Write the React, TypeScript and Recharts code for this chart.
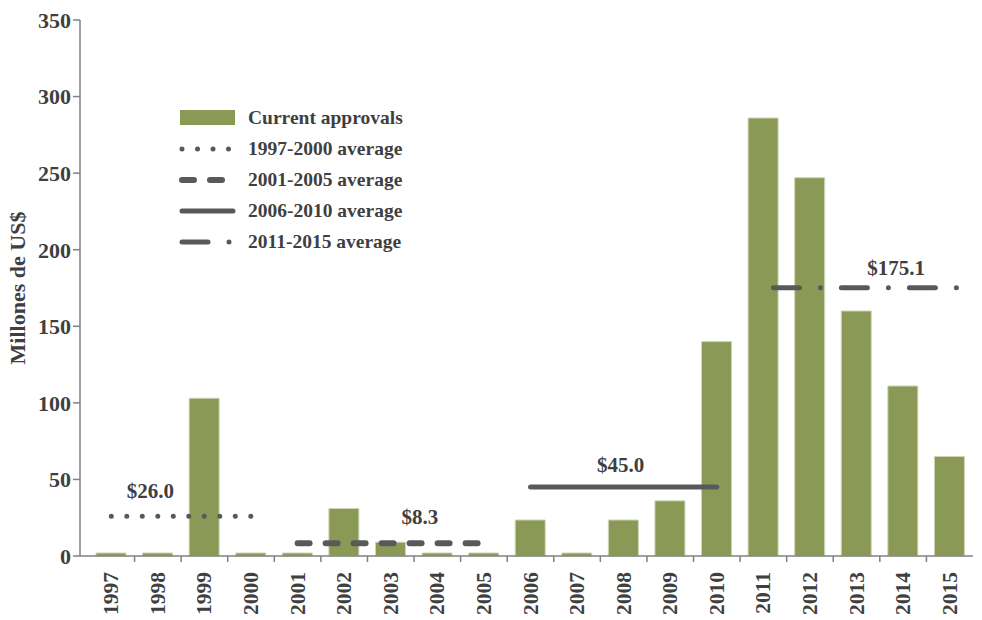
import React from 'react';
import { ComposedChart, Bar, Line, XAxis, YAxis } from 'recharts';

const years = ['1997', '1998', '1999', '2000', '2001', '2002', '2003', '2004', '2005', '2006',
  '2007', '2008', '2009', '2010', '2011', '2012', '2013', '2014', '2015'];
const approvals = [0.3, 0.3, 103, 0.3, 0.3, 31, 9, 0.3, 0.3, 23.5, 0.5, 23.5, 36, 140, 286, 247, 160, 111, 65];
const avg9700 = [26.0, 26.0, 26.0, 26.0, null, null, null, null, null, null, null, null, null, null, null, null, null, null, null];
const avg0105 = [null, null, null, null, 8.3, 8.3, 8.3, 8.3, 8.3, null, null, null, null, null, null, null, null, null, null];
const avg0610 = [null, null, null, null, null, null, null, null, null, 45.0, 45.0, 45.0, 45.0, 45.0, null, null, null, null, null];
const avg1115 = [null, null, null, null, null, null, null, null, null, null, null, null, null, null, 175.1, 175.1, 175.1, 175.1, 175.1];
const avgLabels = ['$26.0', '$8.3', '$45.0', '$175.1'];
const yTicks = [0, 50, 100, 150, 200, 250, 300, 350];

const data = years.map((year, i) => ({
  year,
  approvals: approvals[i],
  avg9700: avg9700[i],
  avg0105: avg0105[i],
  avg0610: avg0610[i],
  avg1115: avg1115[i],
}));

const FONT = '"Liberation Serif", serif';
const TEXT = '#3f3f3f';
const LINE = '#58595b';
const BAR = '#8a9a56';
const BAND = 46.6;

const XTick = (props: any) => {
  const { x, y, payload, index } = props;
  return (
    <g>
      {index > 0 && <line x1={x - BAND / 2} x2={x - BAND / 2} y1={y - 8} y2={y - 2} stroke="#808080" strokeWidth={1.5} />}
      <text x={x} y={y + 8} transform={`rotate(-90, ${x}, ${y + 8})`} textAnchor="end" dominantBaseline="central"
        fontFamily={FONT} fontWeight="bold" fontSize={21.5} fill={TEXT}>
        {payload.value}
      </text>
    </g>
  );
};

const makeLabel = (text: string, at: number, dx: number, dy: number) => (props: any) => {
  const { x, y, index } = props;
  if (index !== at) return null;
  return (
    <text x={x + dx} y={y - dy} textAnchor="middle" fontFamily={FONT} fontWeight="bold" fontSize={21} fill={TEXT}>
      {text}
    </text>
  );
};

const legendItems = [
  { name: 'Current approvals', kind: 'bar' },
  { name: '1997-2000 average', dash: '0 15.5', width: 5 },
  { name: '2001-2005 average', dash: '12 16', width: 6 },
  { name: '2006-2010 average', dash: undefined, width: 5 },
  { name: '2011-2015 average', dash: '26 21 0 21', width: 5 },
];

const ChartLegend = () => (
  <div style={{ position: 'absolute', left: 178, top: 103, fontFamily: FONT, fontWeight: 'bold', fontSize: 19.5, color: TEXT }}>
    {legendItems.map((it) => (
      <div key={it.name} style={{ display: 'flex', alignItems: 'center', height: 30.8 }}>
        <svg width={70} height={20} style={{ flex: 'none' }}>
          {it.kind === 'bar' ? (
            <rect x={2} y={2} width={55} height={15} fill={BAR} />
          ) : (
            <line x1={4} x2={55} y1={10} y2={10} stroke={LINE} strokeWidth={it.width}
              strokeLinecap="round" strokeDasharray={it.dash} />
          )}
        </svg>
        <span style={{ whiteSpace: 'nowrap' }}>{it.name}</span>
      </div>
    ))}
  </div>
);

export default function App() {
  return (
    <div style={{ position: 'absolute', left: 0, top: 0, width: 982, height: 620, background: '#fff' }}>
      <ComposedChart width={982} height={620} data={data} margin={{ top: 20, right: 9, bottom: 0, left: 0 }}
        barCategoryGap={0}>
        <XAxis dataKey="year" height={64} padding={{ left: 8, right: 0 }} stroke="#808080" strokeWidth={1.5}
          tickLine={false} interval={0} tick={<XTick />} />
        <XAxis xAxisId="shift" dataKey="year" hide padding={{ left: 18, right: -10 }} />
        <YAxis width={80} domain={[0, 350]} ticks={yTicks} stroke="#808080" strokeWidth={1.5}
          tickSize={7} tick={{ fontFamily: FONT, fontWeight: 'bold', fontSize: 22, fill: TEXT }}
          label={{ value: 'Millones de US$', angle: -90, position: 'insideLeft', dx: 12,
            style: { fontFamily: FONT, fontWeight: 'bold', fontSize: 22, fill: TEXT, textAnchor: 'middle' } }} />
        <Bar dataKey="approvals" fill={BAR} stroke="#cfd5b6" strokeWidth={1} barSize={30} minPointSize={3}
          isAnimationActive={false} />
        <Line dataKey="avg9700" stroke={LINE} strokeWidth={5} strokeDasharray="0 15.5" strokeLinecap="round"
          dot={false} activeDot={false} isAnimationActive={false} label={makeLabel(avgLabels[0], 0, 39, 18)} />
        <Line dataKey="avg0105" stroke={LINE} strokeWidth={6} strokeDasharray="12 16" strokeLinecap="round"
          dot={false} activeDot={false} isAnimationActive={false} label={makeLabel(avgLabels[1], 6, 29, 19)} />
        <Line dataKey="avg0610" stroke={LINE} strokeWidth={5} strokeLinecap="round"
          dot={false} activeDot={false} isAnimationActive={false} label={makeLabel(avgLabels[2], 11, -3, 15)} />
        <Line xAxisId="shift" dataKey="avg1115" stroke={LINE} strokeWidth={5} strokeDasharray="26 21 0 21"
          strokeLinecap="round" dot={false} activeDot={false} isAnimationActive={false}
          label={makeLabel(avgLabels[3], 17, -17, 13)} />
      </ComposedChart>
      <ChartLegend />
    </div>
  );
}
